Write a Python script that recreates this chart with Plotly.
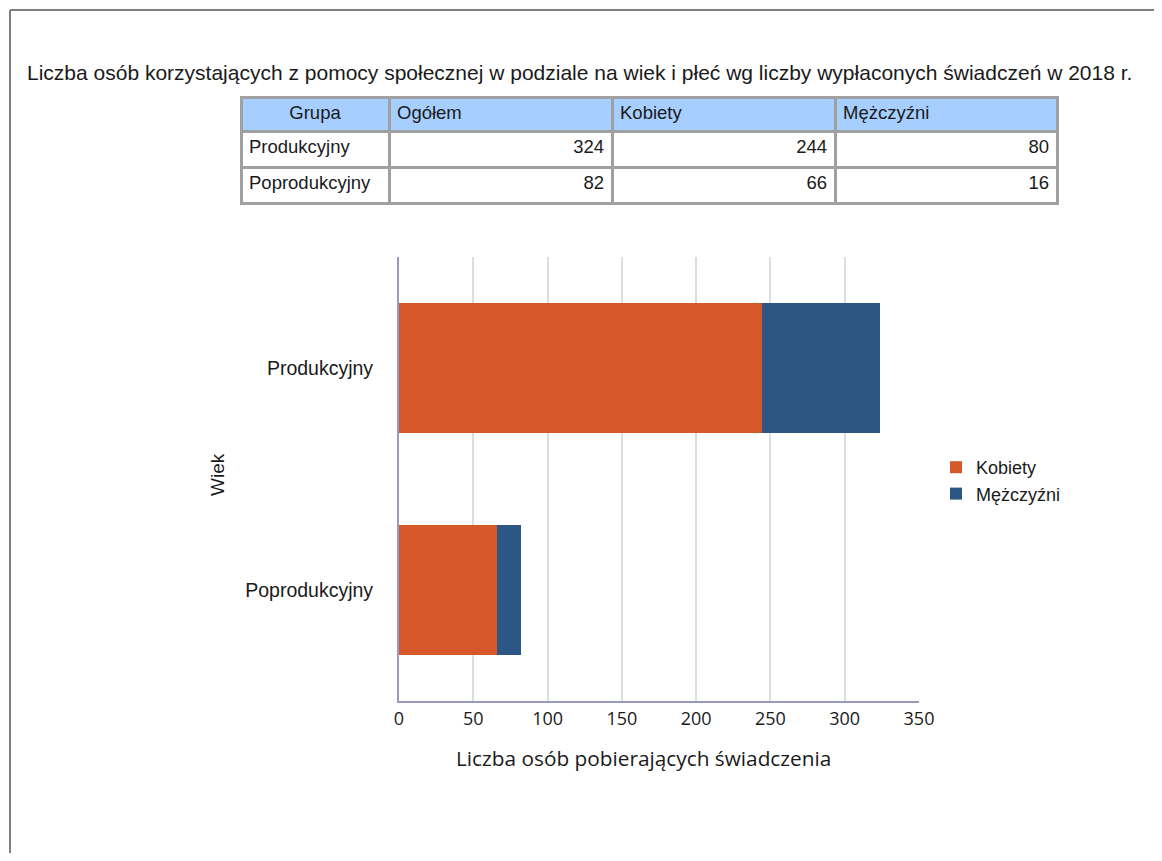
import plotly.graph_objects as go

# dane z raportu
grupy = ["Produkcyjny", "Poprodukcyjny"]
kobiety = [244, 66]
mezczyzni = [80, 16]
ogolem = [324, 82]
naglowki = ["Grupa", "Ogółem", "Kobiety", "Mężczyźni"]
tytul = "Liczba osób korzystających z pomocy społecznej w podziale na wiek i płeć wg liczby wypłaconych świadczeń w 2018 r."

# strona ma 8px marginesu body, figura mieści się w oknie 1162x861
OFF = 8
W, H = 1162 - 2 * OFF, 861 - 2 * OFF


def px_x(v):
    return (v - OFF) / W


def px_y(v):
    return 1 - (v - OFF) / H


fig = go.Figure()

fig.add_trace(go.Table(
    domain=dict(x=[px_x(241), px_x(1057)], y=[px_y(215), px_y(97)]),
    columnwidth=[148, 223, 223, 222],
    header=dict(
        values=naglowki,
        fill_color="#a6cfff",
        line=dict(color="#a0a0a0", width=3),
        align=["center", "left", "left", "left"],
        font=dict(family="Arial", size=18.5, color="#1a1a1a"),
        height=34,
    ),
    cells=dict(
        values=[grupy, ogolem, kobiety, mezczyzni],
        fill_color="white",
        line=dict(color="#a0a0a0", width=3),
        align=["left", "right", "right", "right"],
        font=dict(family="Arial", size=18.5, color="#1a1a1a"),
        height=36,
    ),
))

fig.add_trace(go.Bar(
    name="Kobiety", y=grupy, x=kobiety, orientation="h",
    marker=dict(color="#d5582b", line=dict(width=0)),
))
fig.add_trace(go.Bar(
    name="Mężczyźni", y=grupy, x=mezczyzni, orientation="h",
    marker=dict(color="#2c5784", line=dict(width=0)),
))

fig.update_layout(
    width=W, height=H,
    margin=dict(l=0, r=0, t=0, b=0, autoexpand=False),
    paper_bgcolor="white", plot_bgcolor="white",
    barmode="stack", bargap=0.41,
    font=dict(family="Arial", size=16, color="#1a1a1a"),
    showlegend=True,
    legend=dict(x=px_x(936), y=px_y(449), xanchor="left", yanchor="top",
                traceorder="normal",
                font=dict(family="Arial", size=18), tracegroupgap=0,
                itemwidth=30),
    xaxis=dict(
        domain=[px_x(399), px_x(919)], range=[0, 350], dtick=50,
        showgrid=True, gridcolor="#dcdce6", gridwidth=1.5,
        showline=True, linecolor="#9a9ac0", linewidth=2,
        zeroline=False, ticks="", automargin=False,
        tickfont=dict(family="Open Sans", size=18, color="#1a1a1a"),
    ),
    yaxis=dict(
        domain=[px_y(701), px_y(257)], autorange="reversed",
        showline=True, linecolor="#9a9ac0", linewidth=2,
        ticks="", ticklabelstandoff=20, automargin=False,
        tickfont=dict(family="Arial", size=19.5, color="#1a1a1a"),
    ),
    annotations=[
        dict(text=tytul, x=px_x(25), y=px_y(73), xref="paper", yref="paper",
             xanchor="left", yanchor="middle", showarrow=False,
             font=dict(family="Arial", size=21, color="#1a1a1a")),
        dict(text="Liczba osób pobierających świadczenia", x=px_x(643), y=px_y(758),
             xref="paper", yref="paper", xanchor="center", yanchor="middle",
             showarrow=False, font=dict(family="Open Sans", size=20.8, color="#1a1a1a")),
        dict(text="Wiek", x=px_x(218), y=px_y(475), xref="paper", yref="paper",
             xanchor="center", yanchor="middle", textangle=-90, showarrow=False,
             font=dict(family="Arial", size=19, color="#1a1a1a")),
    ],
    shapes=[
        dict(type="line", xref="paper", yref="paper", x0=px_x(10), x1=1, y0=px_y(10), y1=px_y(10),
             line=dict(color="#808080", width=2)),
        dict(type="line", xref="paper", yref="paper", x0=px_x(10), x1=px_x(10), y0=px_y(10), y1=0,
             line=dict(color="#808080", width=2)),
    ],
)

fig.write_html("out.html")
